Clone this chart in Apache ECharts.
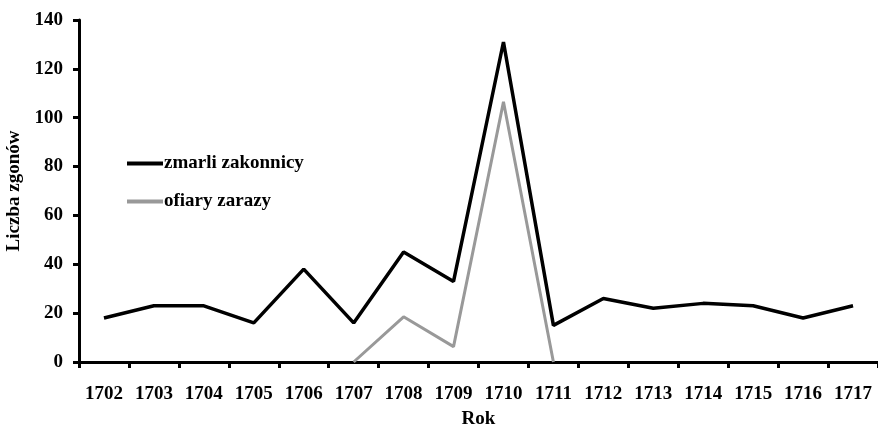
<!DOCTYPE html>
<html><head><meta charset="utf-8">
<script src="https://cdn.jsdelivr.net/npm/echarts@6/dist/echarts.min.js"></script>
<style>html,body{margin:0;padding:0;background:#fff}#c{width:878px;height:431px}</style>
</head><body><div id="c"></div>
<script>
const years = ['1702','1703','1704','1705','1706','1707','1708','1709','1710','1711','1712','1713','1714','1715','1716','1717'];
const zmarliZakonnicy = [18,23,23,16,38,16,45,33,131,15,26,22,24,23,18,23];
const ofiaryZarazy = ['-','-','-','-','-',0,18.5,6.3,106.5,0,'-','-','-','-','-','-'];
const yTicks = [0,20,40,60,80,100,120,140];

const font = '"Liberation Serif","Times New Roman",serif';
const chart = echarts.init(document.getElementById('c'));
chart.setOption({
  animation:false,
  backgroundColor:'#fff',
  grid:{left:79,right:0,top:20,bottom:69,containLabel:false,outerBoundsMode:'none'},
  legend:{
    orient:'vertical', left:122, top:149, itemGap:19, itemWidth:36, itemHeight:4, icon:'rect',
    textStyle:{fontFamily:font,fontWeight:'bold',fontSize:19,color:'#000',padding:[0,0,0,-4]},
    data:[{name:'zmarli zakonnicy',itemStyle:{color:'#000'}},{name:'ofiary zarazy',itemStyle:{color:'#999'}}]
  },
  xAxis:{
    type:'category', data:years, boundaryGap:true,
    name:'Rok', nameLocation:'middle', nameGap:48,
    nameTextStyle:{fontFamily:font,fontWeight:'bold',fontSize:19,color:'#000'},
    axisLine:{lineStyle:{color:'#000',width:3}},
    axisTick:{show:true,alignWithLabel:false,length:6,lineStyle:{color:'#000',width:3}},
    axisLabel:{fontFamily:font,fontWeight:'bold',fontSize:19,color:'#000',margin:23},
    splitLine:{show:false}
  },
  yAxis:{
    type:'value', min:0, max:140, interval:20,
    name:'Liczba zgonów', nameLocation:'middle', nameGap:50, nameRotate:90,
    nameTextStyle:{fontFamily:font,fontWeight:'bold',fontSize:19,color:'#000'},
    axisLine:{show:true,lineStyle:{color:'#000',width:3}},
    axisTick:{show:true,length:6,lineStyle:{color:'#000',width:3}},
    axisLabel:{fontFamily:font,fontWeight:'bold',fontSize:19,color:'#000',margin:16,
      formatter:v=>yTicks.includes(v)?String(v):''},
    splitLine:{show:false}
  },
  series:[
    {name:'zmarli zakonnicy',type:'line',data:zmarliZakonnicy,symbol:'none',
     lineStyle:{color:'#000',width:3.5},itemStyle:{color:'#000'},z:3},
    {name:'ofiary zarazy',type:'line',data:ofiaryZarazy,symbol:'none',connectNulls:false,
     lineStyle:{color:'#999',width:3},itemStyle:{color:'#999'},z:4}
  ]
});
</script></body></html>
